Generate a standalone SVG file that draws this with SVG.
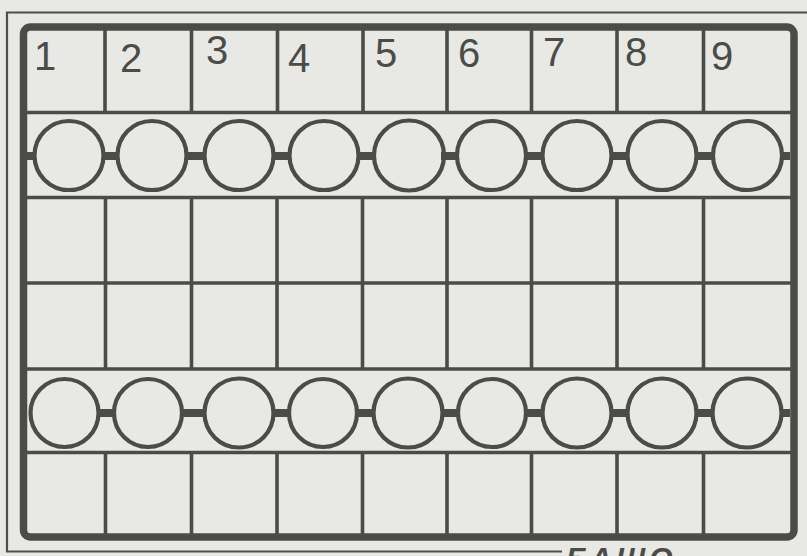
<svg xmlns="http://www.w3.org/2000/svg" width="807" height="556" viewBox="0 0 807 556">
  <style>
    .bg { fill: #e8e8e5; }
    .thin { stroke: #4d4f4b; stroke-width: 2.2; fill: none; }
    .frame { stroke: #4a4c48; stroke-width: 7.5; fill: none; }
    .grid { stroke: #4a4c48; stroke-width: 3.6; fill: none; }
    .ring { stroke: #4a4c48; stroke-width: 4.2; fill: none; }
    .bar { stroke: #4a4c48; stroke-width: 8; }
    .num { font-family: "Liberation Sans", Arial, sans-serif; font-size: 40px; fill: #4a4c48; text-anchor: middle; }
    .cap { font-family: "Liberation Sans", Arial, sans-serif; font-size: 30px; font-weight: bold; font-style: italic; fill: #4a4c48; letter-spacing: 4px; }
  </style>
  <rect class="bg" x="0" y="0" width="807" height="556"/>

  <g id="page-border">
    <path class="thin" d="M807 12.5 H7 V551.5 H562"/>
  </g>

  <g id="frame">
    <rect class="frame" x="23.5" y="27" width="770.5" height="510" rx="7"/>
  </g>

  <g id="grid">
    <line class="grid" x1="26" y1="112.5" x2="791" y2="112.5"/>
    <line class="grid" x1="26" y1="197.5" x2="791" y2="197.5"/>
    <line class="grid" x1="26" y1="283" x2="791" y2="283"/>
    <line class="grid" x1="26" y1="369" x2="791" y2="369"/>
    <line class="grid" x1="26" y1="452.5" x2="791" y2="452.5"/>
    <path class="grid" d="M105 30 V112.5 M191.5 30 V112.5 M277.5 30 V112.5 M363 30 V112.5 M447 30 V112.5 M531.5 30 V112.5 M617 30 V112.5 M703.5 30 V112.5"/>
    <path class="grid" d="M105.5 197.5 V369 M191.5 197.5 V369 M277 197.5 V369 M362.5 197.5 V369 M447 197.5 V369 M531.5 197.5 V369 M617 197.5 V369 M703.5 197.5 V369"/>
    <path class="grid" d="M105.5 452.5 V534 M191.5 452.5 V534 M277 452.5 V534 M362.5 452.5 V534 M447 452.5 V534 M531.5 452.5 V534 M617 452.5 V534 M703.5 452.5 V534"/>
  </g>

  <g id="numbers">
    <text class="num" x="45" y="70">1</text>
    <text class="num" x="131" y="72">2</text>
    <text class="num" x="217" y="64">3</text>
    <text class="num" x="299" y="72">4</text>
    <text class="num" x="386" y="67">5</text>
    <text class="num" x="469" y="67">6</text>
    <text class="num" x="554" y="66">7</text>
    <text class="num" x="636" y="66">8</text>
    <text class="num" x="722" y="70">9</text>
  </g>

  <g id="connectors">
    <path class="bar" d="M27 156 H36 M102 156 H119 M185 156 H206 M272 156 H291 M357 156 H375 M441 156 H458 M524 156 H544 M610 156 H629 M695 156 H714 M781 156 H790"/>
    <path class="bar" d="M97 413 H115 M181 413 H206 M272 413 H290 M356 413 H375 M441 413 H459 M525 413 H544 M610 413 H629 M695 413 H714 M780 413 H790"/>
  </g>

  <g id="row1-circles">
    <circle class="ring" cx="69" cy="155.5" r="34.5"/>
    <circle class="ring" cx="152" cy="155.5" r="34.5"/>
    <circle class="ring" cx="239" cy="155.5" r="34.5"/>
    <circle class="ring" cx="324" cy="155.5" r="34.5"/>
    <circle class="ring" cx="409" cy="155.5" r="35"/>
    <circle class="ring" cx="491.5" cy="155.5" r="34.5"/>
    <circle class="ring" cx="577" cy="155.5" r="34.5"/>
    <circle class="ring" cx="662" cy="155.5" r="34.5"/>
    <circle class="ring" cx="747.5" cy="155.5" r="34.5"/>
  </g>

  <g id="row2-circles">
    <circle class="ring" cx="64.5" cy="413" r="34"/>
    <circle class="ring" cx="148" cy="413" r="34"/>
    <circle class="ring" cx="239" cy="413" r="34.5"/>
    <circle class="ring" cx="323" cy="413" r="34"/>
    <circle class="ring" cx="408" cy="413" r="34.5"/>
    <circle class="ring" cx="492" cy="413" r="34"/>
    <circle class="ring" cx="577" cy="413" r="34.5"/>
    <circle class="ring" cx="662" cy="413" r="34.5"/>
    <circle class="ring" cx="747" cy="413" r="34.5"/>
  </g>

  <g id="caption">
    <text class="cap" x="566" y="568">БАШО</text>
  </g>
</svg>
